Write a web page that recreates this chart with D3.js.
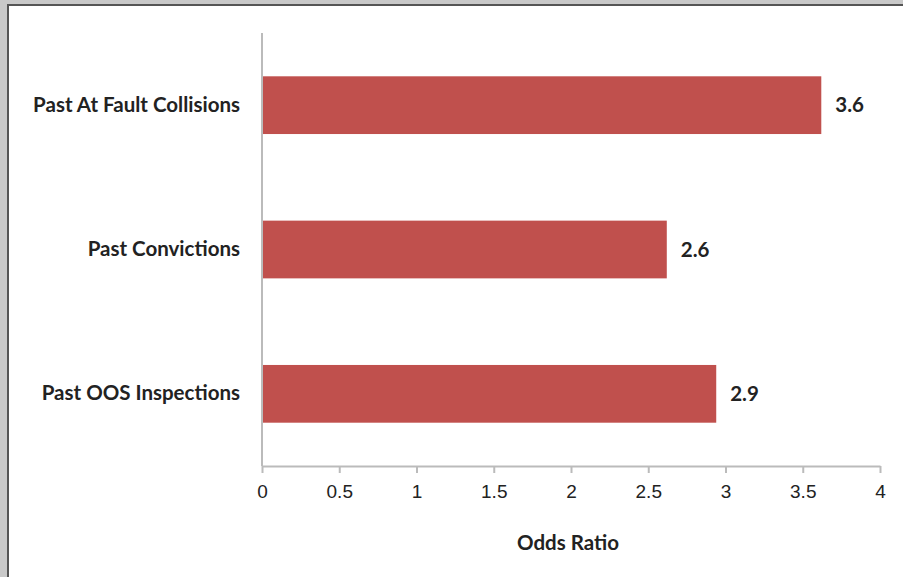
<!DOCTYPE html>
<html lang="en">
<head>
  <meta charset="UTF-8">
  <title>Odds Ratio</title>
  <script src="https://d3js.org/d3.v7.min.js"></script>
  <style>
    body {
      margin: 0;
      background: #c9c9c9;
    }
    svg {
      display: block;
    }
  </style>
</head>
<body>
  <svg></svg>

  <script>
    const categories = ["Past At Fault Collisions", "Past Convictions", "Past OOS Inspections"];
    const values = [3.62, 2.62, 2.94];
    const valueLabels = ["3.6", "2.6", "2.9"];
    const xTicks = [0, 0.5, 1, 1.5, 2, 2.5, 3, 3.5, 4];
    const xTitle = "Odds Ratio";

    const width = 903, height = 577,
          margin = {top: 33, right: 23, bottom: 111, left: 262};

    const svg = d3.select("svg")
      .attr("width", width)
      .attr("height", height);

    // frame of the screenshot
    svg.append("rect")
      .attr("x", 8).attr("y", 5)
      .attr("width", width).attr("height", height)
      .attr("fill", "#fff")
      .attr("stroke", "#555")
      .attr("stroke-width", 2);

    const x = d3.scaleLinear()
      .domain([0, 4])
      .range([margin.left, width - margin.right]);

    const y = d3.scaleBand()
      .domain(categories)
      .range([margin.top, height - margin.bottom])
      .paddingInner(0.6)
      .paddingOuter(0.3);

    const labelFont = "Lato, 'Open Sans', sans-serif";
    const labelSize = 20.5;

    svg.selectAll("rect.bar")
      .data(categories)
      .join("rect")
      .attr("class", "bar")
      .attr("x", x(0))
      .attr("y", d => y(d))
      .attr("width", (d, i) => x(values[i]) - x(0))
      .attr("height", y.bandwidth())
      .attr("fill", "#c0504d");

    svg.selectAll("text.val")
      .data(categories)
      .join("text")
      .attr("class", "val")
      .attr("x", (d, i) => x(values[i]) + 14)
      .attr("y", d => y(d) + y.bandwidth() / 2)
      .attr("dy", "0.35em")
      .attr("font-family", labelFont)
      .attr("font-weight", 700)
      .attr("font-size", labelSize)
      .attr("fill", "#222")
      .text((d, i) => valueLabels[i]);

    // y axis
    const yAxis = svg.append("g")
      .attr("transform", `translate(${x(0)},0)`)
      .call(d3.axisLeft(y).tickSize(0).tickPadding(22));
    yAxis.select(".domain")
      .attr("stroke", "#bbb")
      .attr("stroke-width", 2)
      .attr("d", `M0,${margin.top}V${height - margin.bottom}`);
    yAxis.selectAll("text")
      .attr("font-family", labelFont)
      .attr("font-weight", 700)
      .attr("font-size", labelSize)
      .attr("fill", "#222");

    // x axis
    const xAxis = svg.append("g")
      .attr("transform", `translate(0,${height - margin.bottom})`)
      .call(d3.axisBottom(x).tickValues(xTicks).tickSize(7).tickSizeOuter(0)
        .tickPadding(12).tickFormat(d3.format("")));
    xAxis.select(".domain").attr("stroke", "#bbb").attr("stroke-width", 2);
    xAxis.selectAll(".tick line").attr("stroke", "#bbb").attr("stroke-width", 2);
    xAxis.selectAll("text")
      .attr("font-family", "'Liberation Sans', Arial, sans-serif")
      .attr("font-size", 19)
      .attr("fill", "#222");

    svg.append("text")
      .attr("x", (x(0) + x(4)) / 2 - 3)
      .attr("y", 550)
      .attr("text-anchor", "middle")
      .attr("font-family", labelFont)
      .attr("font-weight", 700)
      .attr("font-size", labelSize)
      .attr("fill", "#222")
      .text(xTitle);
  </script>
</body>
</html>
